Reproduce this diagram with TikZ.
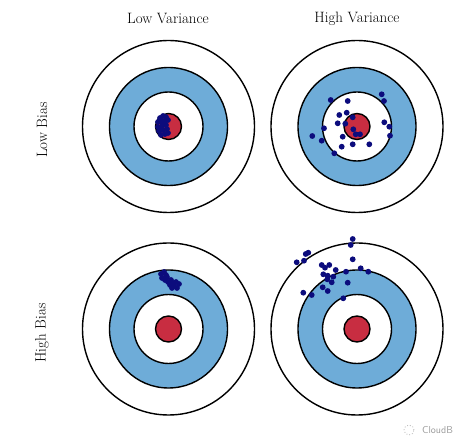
\documentclass[tikz,border=0pt]{standalone}
\usepackage{tikz}
\usetikzlibrary{positioning}
\definecolor{ringblue}{RGB}{110,172,216}
\definecolor{bullred}{RGB}{200,45,65}
\definecolor{shotblue}{RGB}{12,12,125}
\tikzset{
outerring/.style = {draw, fill=white, line width=1.4pt},
bluering/.style = {draw, fill=ringblue, line width=1.4pt},
innerring/.style = {draw, fill=white, line width=1.4pt},
bullseye/.style = {draw, fill=bullred, line width=1.4pt},
shot/.style = {fill=shotblue},
heading/.style = {font=\fontsize{15}{18}\selectfont, inner sep=0pt},
mark text/.style = {font=\sffamily\fontsize{10}{12}\selectfont, text=black!40, inner sep=0pt}
}

\begin{document}
\begin{tikzpicture}[x=1pt, y=-1pt]
    \useasboundingbox (0,0) rectangle (474,446);
    % target centres
    \coordinate (tl) at (168.5,126.5);
    \coordinate (tr) at (357,126.5);
    \coordinate (bl) at (168.5,329);
    \coordinate (br) at (357,329);
    \foreach \c in {tl,tr,bl,br} {
      \draw [outerring] (\c) circle (86pt);
      \draw [bluering] (\c) circle (59pt);
      \draw [innerring] (\c) circle (34.5pt);
      \draw [bullseye] (\c) circle (13pt);
    }
    % headings
    \node [heading] (lowvar) at (168,19) {Low Variance};
    \node [heading] (highvar) at (357,19) {High Variance};
    \node [heading, rotate=90] (lowbias) at (42,130) {Low Bias};
    \node [heading, rotate=90] (highbias) at (42,333) {High Bias};
    % low bias, low variance
    \foreach \p in {(160,118),(163,116),(166,117),(158,122),(161,121),(165,121),
      (168,120),(158,127),(162,126),(166,125),(159,131),(163,130),(167,129),
      (161,135),(165,134),(168,133),(163,123),(160,128)}
      \fill [shot] \p circle (2.9pt);
    % low bias, high variance
    \foreach \p in {(330.7,100),(347.7,101),(381.7,94.3),(384,101),(339.3,115),
      (346.7,112.7),(352.7,117.3),(337.7,123.3),(345.3,123.7),(324,128.3),
      (312.3,136),(321.7,140.7),(342.7,136.7),(353.3,129.3),(355.7,134.3),
      (360,134.3),(384.3,122.3),(389.3,126.7),(390,135.7),(352.7,144.3),
      (341.7,146.7),(369.3,144.3),(334.3,153.3)}
      \fill [shot] \p circle (2.9pt);
    % high bias, low variance
    \foreach \p in {(161,274),(164,272),(166,275),(162,278),(165,280),(168,282),
      (171,280),(173,283),(176,282),(179,284),(174,286),(177,288),(170,285),
      (167,277),(172,288)}
      \fill [shot] \p circle (2.9pt);
    % high bias, high variance
    \foreach \p in {(352.7,239),(350.7,245),(308.3,252.7),(305.7,254),(296.7,262.3),
      (304,260.7),(352.7,259.3),(321.7,265),(329.3,265),(325,267.7),(335.7,270),
      (346,271.7),(360.7,268.3),(368.3,271.7),(323.3,274.3),(327.7,275.7),
      (333.3,276.7),(327.3,279.3),(331.7,282.3),(347.7,282.7),(322.7,287.3),
      (327.7,291),(303.3,292.7),(311.7,295),(343.3,298.3)}
      \fill [shot] \p circle (2.9pt);
    % watermark
    \draw [black!25, dotted, line width=0.9pt] (409,430) circle (5pt);
    \node [mark text, anchor=west] (cloudb) at (422,430) {CloudB};
\end{tikzpicture}
\end{document}
